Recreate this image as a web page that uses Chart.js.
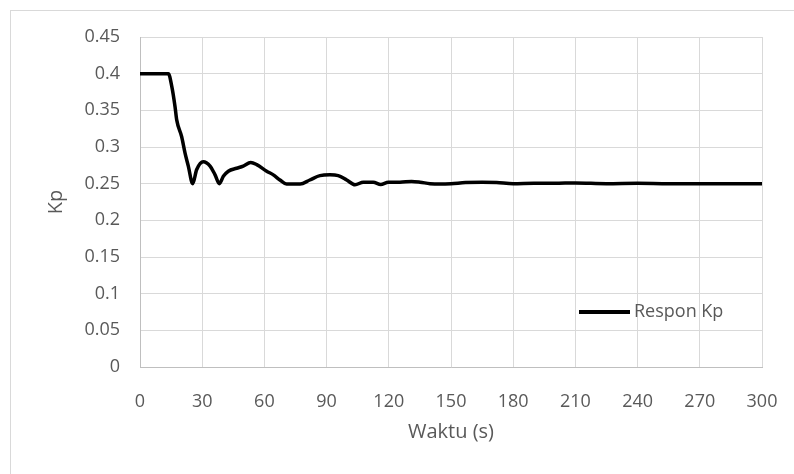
<!DOCTYPE html>
<html>
<head>
<meta charset="utf-8">
<script src="https://cdn.jsdelivr.net/npm/chart.js@4"></script>
<style>
  html, body { margin: 0; padding: 0; background: #fff; }
  #wrap { width: 794px; height: 474px; position: relative; }
</style>
</head>
<body>
<div id="wrap"><canvas id="chart" width="794" height="474"></canvas></div>
<script>
// Respon Kp over time
const waktu = [0, 13.7, 15.3, 16.9, 17.7, 20.1, 21.7, 23.3, 25.4, 27.3, 30.5, 33.8, 36.2, 38.3,
  40.2, 42.6, 46.6, 49.8, 53.4, 56.3, 61.1, 64.3, 67.5, 70.7, 77.2, 81.9, 86.8, 91.6, 95.6,
  99.7, 103.7, 107.7, 112.5, 116.1, 119.8, 125.4, 131, 135.1, 139.9, 145, 150, 157, 165, 172,
  180, 190, 200, 210, 225, 240, 255, 270, 285, 300];
const kp = [0.4, 0.4, 0.383, 0.355, 0.337, 0.314, 0.292, 0.274, 0.25, 0.269, 0.28, 0.274, 0.262, 0.25,
  0.26, 0.267, 0.271, 0.274, 0.279, 0.276, 0.267, 0.262, 0.255, 0.2495, 0.2495, 0.255, 0.261, 0.262, 0.261,
  0.255, 0.2485, 0.252, 0.252, 0.249, 0.252, 0.252, 0.253, 0.252, 0.25, 0.2495, 0.25, 0.2515, 0.252, 0.2515,
  0.25, 0.2505, 0.2505, 0.251, 0.25, 0.2505, 0.25, 0.25, 0.25, 0.25];
const xTicks = ['0', '30', '60', '90', '120', '150', '180', '210', '240', '270', '300'];
const yTicks = ['0', '0.05', '0.1', '0.15', '0.2', '0.25', '0.3', '0.35', '0.4', '0.45'];

const FONT = "'Open Sans', sans-serif";
const TEXT = '#595959';
const GRID = '#d9d9d9';

// outer frame and legend inside the plot, like the Excel original
const frameAndLegend = {
  id: 'frameAndLegend',
  beforeDraw(chart) {
    const ctx = chart.ctx;
    ctx.save();
    ctx.strokeStyle = GRID;
    ctx.lineWidth = 1;
    ctx.strokeRect(10.5, 10.5, 900, 600);
    ctx.restore();
  },
  afterDraw(chart) {
    const ctx = chart.ctx;
    const ds = chart.data.datasets[0];
    ctx.save();
    ctx.strokeStyle = ds.borderColor;
    ctx.lineWidth = 4;
    ctx.beginPath();
    ctx.moveTo(579, 312);
    ctx.lineTo(630, 312);
    ctx.stroke();
    ctx.fillStyle = TEXT;
    ctx.font = '18px ' + FONT;
    ctx.textBaseline = 'middle';
    ctx.fillText(ds.label, 634, 312);
    ctx.restore();
  }
};

new Chart(document.getElementById('chart'), {
  type: 'line',
  data: {
    datasets: [{
      label: 'Respon Kp',
      data: waktu.map((t, i) => ({ x: t, y: kp[i] })),
      borderColor: '#000000',
      borderWidth: 3.5,
      pointRadius: 0,
      cubicInterpolationMode: 'monotone',
      fill: false
    }]
  },
  options: {
    responsive: false,
    animation: false,
    layout: { padding: { left: 40, top: 37, right: 32, bottom: 26 } },
    plugins: {
      legend: { display: false },
      tooltip: { enabled: false }
    },
    scales: {
      x: {
        type: 'linear',
        min: 0,
        max: 300,
        afterFit(scale) {
          scale.height = 81;
          scale.paddingLeft = 0;
          scale.paddingRight = 0;
        },
        ticks: {
          stepSize: 30,
          padding: 24,
          color: TEXT,
          font: { family: FONT, size: 18 },
          maxRotation: 0,
          callback: (v, i) => xTicks[i]
        },
        grid: { color: GRID, drawTicks: false },
        border: { color: '#bfbfbf' },
        title: { display: true, text: 'Waktu (s)', color: TEXT, font: { family: FONT, size: 20 } }
      },
      y: {
        min: 0,
        max: 0.45,
        afterFit(scale) {
          scale.width = 100;
          scale.paddingTop = 0;
          scale.paddingBottom = 0;
        },
        ticks: {
          stepSize: 0.05,
          padding: 20,
          color: TEXT,
          font: { family: FONT, size: 18 },
          callback: (v, i) => yTicks[i]
        },
        grid: { color: GRID, drawTicks: false },
        border: { color: '#bfbfbf' },
        title: { display: true, text: 'Kp', color: TEXT, font: { family: FONT, size: 20 } }
      }
    }
  },
  plugins: [frameAndLegend]
});
</script>
</body>
</html>
